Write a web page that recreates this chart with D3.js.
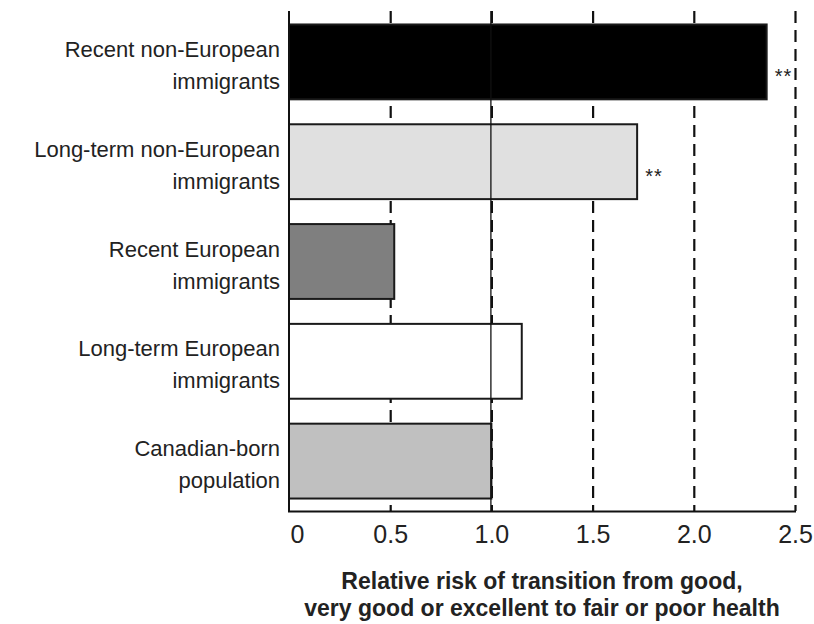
<!DOCTYPE html>
<html lang="en">
<head>
    <meta charset="UTF-8">
    <title>Relative risk of transition to fair or poor health</title>
    <script src="https://d3js.org/d3.v7.min.js"></script>
</head>

<style>
    body{
        margin: 0;
        background: white;
    }
    text {
        font-family: "Liberation Sans", Arial, sans-serif;
        fill: #222;
    }
</style>
<body>

    <svg id = "chart"></svg>

    <script>
    //Data
        const groups = [
            ["Recent non-European", "immigrants"],
            ["Long-term non-European", "immigrants"],
            ["Recent European", "immigrants"],
            ["Long-term European", "immigrants"],
            ["Canadian-born", "population"]
        ];
        const relativeRisk = [2.36, 1.72, 0.52, 1.15, 1.0];
        const significance = ["**", "**", "", "", ""];
        const barColors = ["#000000", "#e0e0e0", "#7f7f7f", "#ffffff", "#c0c0c0"];
        const tickValues = [0, 0.5, 1.0, 1.5, 2.0, 2.5];
        const tickLabels = ["0", "0.5", "1.0", "1.5", "2.0", "2.5"];
        const axisTitle = ["Relative risk of transition from good,",
                           "very good or excellent to fair or poor health"];

        const width = 814;
        const height = 624;

        const svg = d3.select("#chart")
            .attr("width", width)
            .attr("height", height);

    //Scales
        const plot = {left: 289, right: 795, top: 11, bottom: 511};

        const x = d3.scaleLinear()
            .domain([0, 2.5])
            .range([plot.left, plot.right]);

        const y = d3.scaleBand()
            .domain(d3.range(groups.length))
            .range([plot.top + 1, plot.bottom])
            .paddingInner(0.25)
            .paddingOuter(0.125);

    //Dashed gridlines (behind bars)
        svg.append("g")
            .selectAll("line")
            .data(tickValues.slice(1))
            .join("line")
            .attr("x1", d => x(d) + 0.5)
            .attr("x2", d => x(d) + 0.5)
            .attr("y1", plot.top)
            .attr("y2", plot.bottom)
            .attr("stroke", "#111")
            .attr("stroke-width", 2.2)
            .attr("stroke-dasharray", "12,7");

    //Bars
        svg.append("g")
            .selectAll("rect")
            .data(relativeRisk)
            .join("rect")
            .attr("x", x(0))
            .attr("y", (d, i) => y(i))
            .attr("width", d => x(d) - x(0))
            .attr("height", y.bandwidth())
            .attr("fill", (d, i) => barColors[i])
            .attr("stroke", "#1a1a1a")
            .attr("stroke-width", 2);

    //Reference line at 1.0 drawn over the bars
        svg.append("line")
            .attr("x1", x(1) - 0.5)
            .attr("x2", x(1) - 0.5)
            .attr("y1", plot.top)
            .attr("y2", plot.bottom)
            .attr("stroke", "#111")
            .attr("stroke-width", 1.3);

    //Significance stars
        svg.append("g")
            .selectAll("text")
            .data(relativeRisk)
            .join("text")
            .attr("x", d => x(d) + 8)
            .attr("y", (d, i) => y(i) + y.bandwidth() / 2 + 21)
            .attr("font-size", 20)
            .attr("letter-spacing", 1)
            .text((d, i) => significance[i]);

    //Axes
        const xAxis = d3.axisBottom(x)
            .tickValues(tickValues)
            .tickFormat((d, i) => tickLabels[i])
            .tickSize(0)
            .tickPadding(14);

        const gx = svg.append("g")
            .attr("transform", `translate(0,${plot.bottom})`)
            .call(xAxis);
        gx.select(".domain")
            .attr("stroke", "#111")
            .attr("stroke-width", 2)
            .attr("d", `M${plot.left - 1},0.5H${plot.right + 1}`);
        gx.selectAll(".tick text")
            .attr("font-size", 25)
            .attr("font-family", "'Liberation Sans Narrow', 'Arial Narrow', 'DejaVu Sans Condensed', sans-serif")
            .attr("fill", "#222")
            .attr("dx", (d, i) => i === 0 ? 8 : 0);

        svg.append("line")
            .attr("x1", plot.left)
            .attr("x2", plot.left)
            .attr("y1", plot.top)
            .attr("y2", plot.bottom + 1)
            .attr("stroke", "#111")
            .attr("stroke-width", 2);

    //Category labels
        const labels = svg.append("g")
            .selectAll("text")
            .data(groups)
            .join("text")
            .attr("text-anchor", "end")
            .attr("font-size", 22)
            .attr("y", (d, i) => y(i) + y.bandwidth() / 2);

        labels.selectAll("tspan")
            .data(d => d)
            .join("tspan")
            .attr("x", 280)
            .attr("dy", (d, j) => j === 0 ? -5 : 32)
            .text(d => d);

    //Axis title
        svg.append("text")
            .attr("text-anchor", "middle")
            .attr("font-size", 23)
            .attr("font-weight", "bold")
            .selectAll("tspan")
            .data(axisTitle)
            .join("tspan")
            .attr("x", (plot.left + plot.right) / 2)
            .attr("y", (d, i) => 589 + i * 27)
            .text(d => d);
    </script>
</body>
</html>
